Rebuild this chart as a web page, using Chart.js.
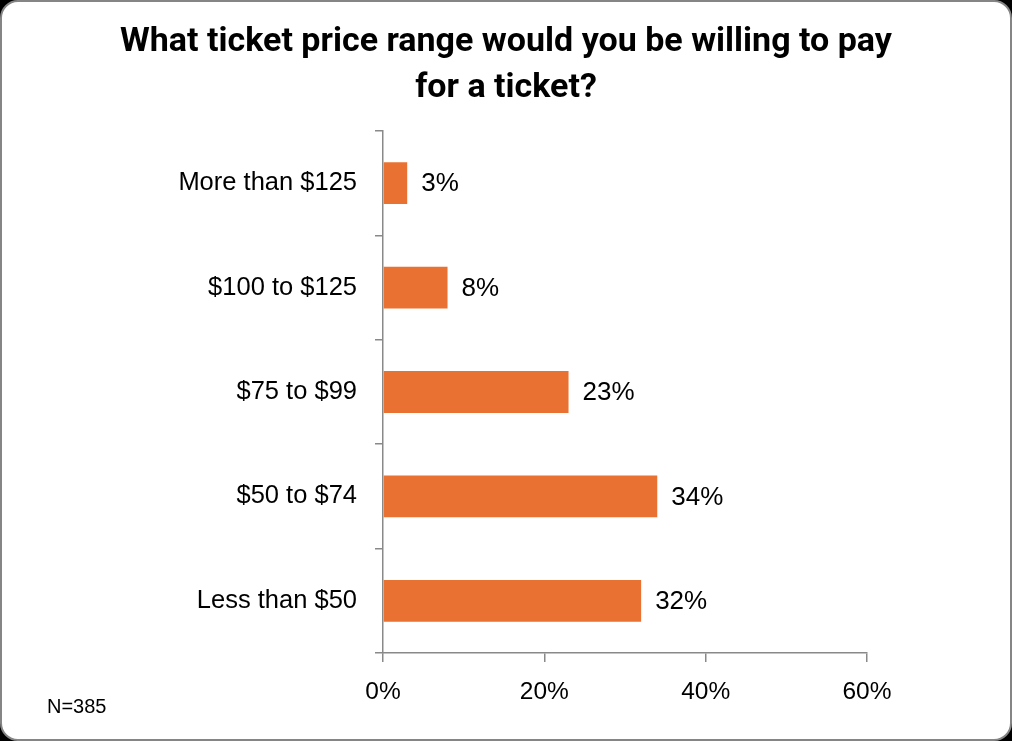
<!DOCTYPE html>
<html>
<head>
<meta charset="utf-8">
<script src="https://cdn.jsdelivr.net/npm/chart.js@4"></script>
<style>
  html, body { margin: 0; padding: 0; background: #000; }
  #frame {
    position: absolute; left: 0; top: 0; width: 1012px; height: 741px;
    box-sizing: border-box; background: #fff;
    border: 2px solid #858585; border-radius: 18px;
  }
  #wrap { position: absolute; left: 0; top: 0; width: 1012px; height: 741px; }
  #title {
    position: absolute; left: 0; top: 16px; width: 1012px; text-align: center;
    font: bold 34px/46px Roboto, sans-serif; color: #000;
  }
  #note {
    position: absolute; left: 47px; top: 696px;
    font: 20px/20px "Liberation Sans", Arial, sans-serif; color: #000;
  }
</style>
</head>
<body>
<div id="frame"></div>
<div id="wrap"><canvas id="chart" width="1012" height="741"></canvas></div>
<div id="title">What ticket price range would you be willing to pay<br>for a ticket?</div>
<div id="note">N=385</div>
<script>
// ticket price question, values in percent
var categories = ['More than $125', '$100 to $125', '$75 to $99', '$50 to $74', 'Less than $50'];
var shares = [3, 8, 23, 34, 32];
var xTicks = [0, 20, 40, 60];

var axisGray = '#898989';

// simple value labels at the bar ends
var barLabels = {
  id: 'barLabels',
  afterDatasetsDraw: function(chart) {
    var ctx = chart.ctx;
    var meta = chart.getDatasetMeta(0);
    ctx.save();
    ctx.font = '26px "Liberation Sans", Arial, sans-serif';
    ctx.fillStyle = '#000';
    ctx.textAlign = 'left';
    ctx.textBaseline = 'middle';
    meta.data.forEach(function(bar, i) {
      ctx.fillText(shares[i] + '%', bar.x + 14, bar.y + 1);
    });
    ctx.restore();
  }
};

var chart = new Chart(document.getElementById('chart'), {
  type: 'bar',
  data: {
    labels: categories,
    datasets: [{
      data: shares,
      backgroundColor: '#E97132',
      barPercentage: 0.4,
      categoryPercentage: 1.0
    }]
  },
  options: {
    indexAxis: 'y',
    responsive: false,
    animation: false,
    layout: { padding: { left: 0, right: 145, top: 131, bottom: 0 } },
    plugins: {
      legend: { display: false },
      tooltip: { enabled: false },
      title: { display: false }
    },
    scales: {
      x: {
        min: 0,
        max: 60,
        afterBuildTicks: function(scale) {
          scale.ticks = xTicks.map(function(v) { return { value: v }; });
        },
        afterFit: function(scale) { scale.height = 88; },
        grid: { drawOnChartArea: false, drawTicks: true, tickLength: 9, color: axisGray, lineWidth: 1.5 },
        border: { display: true, color: axisGray, width: 1.5 },
        ticks: {
          padding: 16,
          color: '#000',
          font: { family: 'Liberation Sans', size: 24.5 },
          callback: function(v) { return v + '%'; }
        }
      },
      y: {
        afterFit: function(scale) { scale.width = 383; },
        grid: { offset: true, drawOnChartArea: false, drawTicks: true, tickLength: 8, color: axisGray, lineWidth: 1.5 },
        border: { display: true, color: axisGray, width: 1.5 },
        ticks: {
          padding: 18,
          color: '#000',
          font: { family: 'Liberation Sans', size: 25.5 }
        }
      }
    }
  },
  plugins: [barLabels]
});
</script>
</body>
</html>
